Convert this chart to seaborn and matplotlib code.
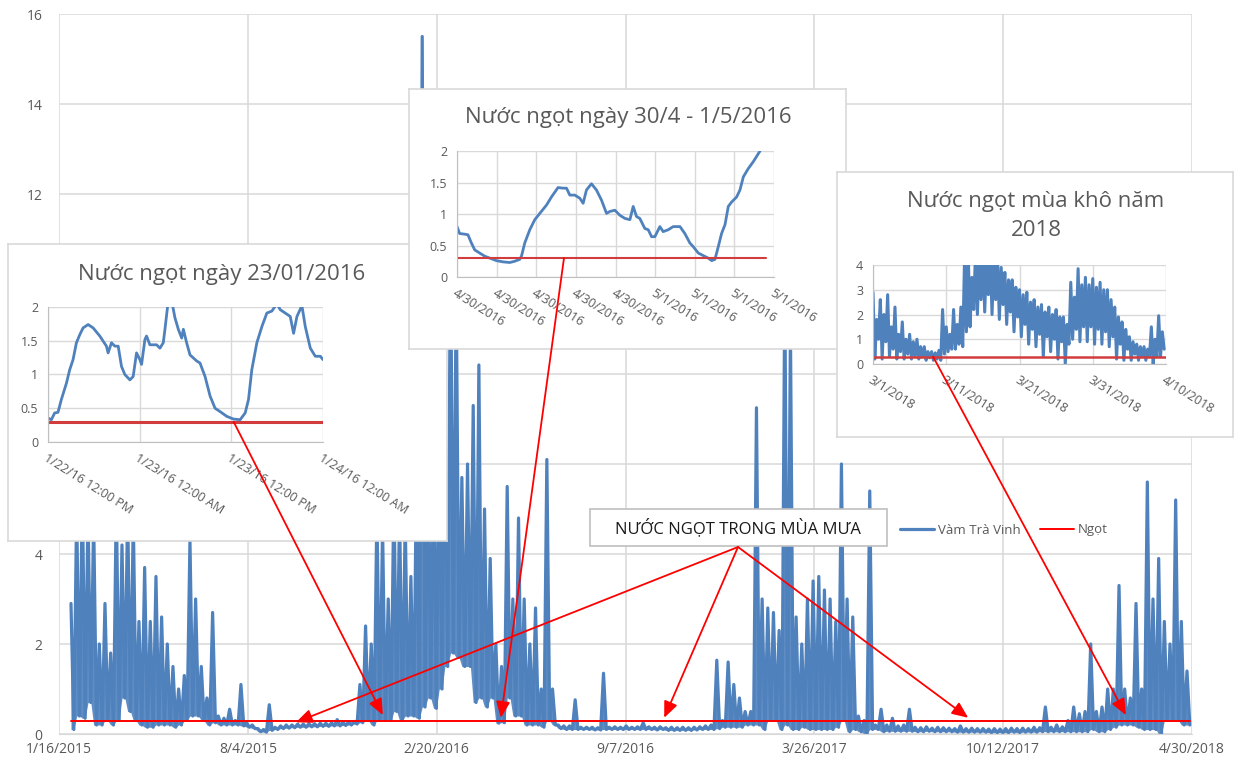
import numpy as np
import pandas as pd
import matplotlib
matplotlib.use("Agg")
import matplotlib.pyplot as plt
import seaborn as sns
from matplotlib.patches import ConnectionPatch, Rectangle

# ---------------------------------------------------------------- data
NGOT = 0.3  # salinity threshold (Ngọt)

# main chart: days since 1/16/2015
main_xtick_days = [0, 200, 400, 600, 800, 1000, 1200]
main_xtick_labels = ['1/16/2015', '8/4/2015', '2/20/2016', '9/7/2016',
                     '3/26/2017', '10/12/2017', '4/30/2018']
main_yticks = [0, 2, 4, 6, 8, 10, 12, 14, 16]
main_ylabels = ['0', '2', '4', '', '', '', '12', '14', '16']  # 6-10 lie under inset 1
main_start_day = 12.7
main_step_days = 6

# tidal highs / lows, one pair per step
main_max = [
    2.9, 5.0, 5.5, 5.0, 4.8, 2.0, 2.9, 1.8, 5.2, 4.2,
    5.0, 4.8, 2.5, 3.7, 2.5, 3.5, 2.6, 2.0, 1.5, 1.0,
    1.3, 4.3, 3.0, 1.5, 0.8, 2.7, 0.4, 0.35, 0.55, 0.3,
    1.1, 0.25, 0.2, 0.12, 0.1, 0.65, 0.15, 0.18, 0.2, 0.2,
    0.22, 0.22, 0.23, 0.23, 0.24, 0.24, 0.25, 0.32, 0.26, 0.27,
    0.28, 1.1, 2.4, 2.0, 5.0, 4.6, 3.0, 5.5, 5.0, 4.8,
    3.5, 6.0, 15.5, 7.0, 6.5, 7.0, 8.0, 11.0, 10.0, 5.7,
    6.0, 7.3, 8.2, 5.0, 3.9, 2.0, 1.5, 5.5, 3.0, 4.8,
    3.0, 2.0, 2.8, 1.0, 6.1, 1.0, 0.2, 0.18, 0.18, 0.76,
    0.15, 0.15, 0.15, 0.14, 1.35, 0.15, 0.16, 0.15, 0.18, 0.15,
    0.16, 0.25, 0.16, 0.15, 0.16, 0.14, 0.15, 0.14, 0.15, 0.14,
    0.15, 0.16, 0.18, 0.2, 1.64, 0.3, 1.6, 1.1, 0.8, 0.5,
    0.5, 7.25, 3.0, 2.8, 2.7, 2.3, 10.0, 9.0, 2.6, 2.0,
    3.0, 3.4, 3.5, 3.2, 3.0, 2.5, 6.0, 3.0, 2.6, 0.4,
    0.3, 5.4, 0.2, 0.55, 0.2, 0.35, 0.18, 0.2, 0.55, 0.15,
    0.14, 0.16, 0.13, 0.15, 0.14, 0.13, 0.12, 0.18, 0.12, 0.13,
    0.12, 0.12, 0.11, 0.12, 0.11, 0.12, 0.13, 0.12, 0.13, 0.12,
    0.15, 0.14, 0.6, 0.15, 0.2, 0.16, 0.3, 0.6, 0.45, 0.5,
    2.0, 0.5, 0.6, 1.0, 1.0, 3.3, 1.0, 0.8, 2.9, 1.0,
    5.6, 3.0, 3.9, 2.5, 2.0, 5.2, 2.5, 1.4]
main_min = [
    0.1, 0.4, 0.35, 0.7, 0.2, 0.2, 0.3, 0.2, 0.3, 0.8,
    0.5, 0.3, 0.2, 0.15, 0.15, 0.2, 0.2, 0.2, 0.15, 0.2,
    0.3, 0.4, 0.4, 0.3, 0.2, 0.25, 0.2, 0.2, 0.2, 0.2,
    0.18, 0.15, 0.12, 0.05, 0.04, 0.08, 0.1, 0.12, 0.13, 0.14,
    0.15, 0.15, 0.16, 0.16, 0.17, 0.17, 0.18, 0.18, 0.19, 0.2,
    0.22, 0.25, 0.3, 0.2, 0.3, 0.3, 0.3, 0.5, 0.3, 0.4,
    0.4, 0.35, 0.6, 0.8, 0.57, 1.0, 1.5, 1.8, 1.7, 1.5,
    1.5, 0.7, 0.8, 0.6, 0.8, 0.24, 0.25, 0.8, 0.4, 0.4,
    0.2, 0.2, 0.2, 0.15, 0.3, 0.2, 0.12, 0.1, 0.1, 0.1,
    0.1, 0.1, 0.09, 0.09, 0.1, 0.1, 0.1, 0.1, 0.1, 0.1,
    0.1, 0.1, 0.1, 0.09, 0.1, 0.08, 0.08, 0.08, 0.08, 0.08,
    0.09, 0.1, 0.1, 0.1, 0.12, 0.15, 0.15, 0.15, 0.15, 0.2,
    0.2, 0.2, 0.1, 0.3, 0.3, 0.1, 0.2, 0.1, 0.1, 0.15,
    0.1, 0.1, 0.1, 0.1, 0.1, 0.15, 0.3, 0.05, 0.1, 0.05,
    0.0, 0.1, 0.1, 0.05, 0.06, 0.06, 0.06, 0.06, 0.06, 0.05,
    0.05, 0.06, 0.05, 0.05, 0.05, 0.05, 0.04, 0.04, 0.04, 0.04,
    0.04, 0.04, 0.03, 0.03, 0.03, 0.03, 0.04, 0.03, 0.04, 0.04,
    0.04, 0.05, 0.05, 0.05, 0.05, 0.05, 0.05, 0.05, 0.05, 0.05,
    0.1, 0.05, 0.05, 0.1, 0.15, 0.2, 0.2, 0.2, 0.15, 0.1,
    0.1, 0.1, 0.0, 0.3, 0.3, 0.3, 0.2, 0.2]

# inset 1: 23/01/2016 (hours after 1/22/16 12:00 PM)
ins1_hours = [0, 0.44, 0.87, 1.31, 1.75, 2.41, 2.84, 3.28, 3.72, 4.16, 4.59, 5.25,
              5.91, 6.78, 7.65, 7.87, 8.31, 8.75, 9.19, 9.62, 10.06, 10.72, 11.15,
              11.59, 12.03, 12.25, 12.69, 12.9, 13.34, 14.22, 14.65, 15.09, 15.31,
              15.75, 16.18, 16.62, 17.06, 17.5, 17.72, 18.15, 18.59, 19.47, 19.9,
              20.56, 21.22, 21.87, 22.53, 23.4, 24.28, 25.15, 25.81, 26.25, 26.68,
              27.34, 28.0, 28.65, 29.31, 29.96, 30.4, 31.06, 31.71, 32.15, 32.59,
              33.24, 33.68, 34.34, 34.99, 35.65, 36.0]
ins1_vals = [0.355, 0.33, 0.43, 0.44, 0.63, 0.87, 1.07, 1.22, 1.47, 1.59, 1.69, 1.74,
             1.69, 1.57, 1.42, 1.32, 1.47, 1.42, 1.42, 1.12, 1.0, 0.92, 0.97, 1.32,
             1.22, 1.15, 1.52, 1.57, 1.44, 1.44, 1.39, 1.47, 1.67, 2.1, 2.1, 1.84,
             1.67, 1.54, 1.67, 1.47, 1.29, 1.2, 1.17, 0.97, 0.68, 0.5, 0.45, 0.38,
             0.34, 0.33, 0.43, 0.63, 1.07, 1.47, 1.71, 1.91, 1.94, 2.05, 1.96, 1.91,
             1.86, 1.61, 1.86, 2.02, 1.71, 1.39, 1.27, 1.27, 1.22]
ins1_xticks = [0, 12, 24, 36]
ins1_xlabels = ['1/22/16 12:00 PM', '1/23/16 12:00 AM', '1/23/16 12:00 PM', '1/24/16 12:00 AM']

# inset 2: 30/4 - 1/5/2016 (hours)
ins2_hours = [0, 0.2, 0.58, 0.83, 1.09, 1.34, 1.72, 2.10, 2.48, 2.98, 3.49, 3.99, 4.37,
              4.75, 4.88, 5.13, 5.51, 5.89, 6.27, 6.77, 7.15, 7.65, 8.03, 8.29, 8.54,
              8.92, 9.30, 9.55, 9.80, 10.18, 10.56, 10.94, 11.32, 11.57, 11.95, 12.33,
              12.71, 13.09, 13.34, 13.59, 13.84, 14.22, 14.48, 14.73, 14.98, 15.36,
              15.61, 15.99, 16.37, 16.88, 17.25, 17.63, 17.89, 18.27, 18.64, 19.02,
              19.28, 19.53, 19.78, 20.03, 20.29, 20.54, 20.79, 21.17, 21.42, 21.68,
              22.05, 22.43, 22.94]
ins2_vals = [0.8, 0.69, 0.68, 0.67, 0.54, 0.43, 0.38, 0.33, 0.30, 0.26,
             0.24, 0.23, 0.25, 0.28, 0.33, 0.54, 0.75, 0.91, 1.01, 1.14,
             1.27, 1.42, 1.41, 1.41, 1.30, 1.30, 1.25, 1.17, 1.38, 1.48,
             1.38, 1.22, 1.01, 1.04, 1.06, 0.98, 0.93, 0.91, 1.12, 0.96,
             0.93, 0.77, 0.75, 0.64, 0.64, 0.80, 0.72, 0.75, 0.80, 0.80,
             0.69, 0.54, 0.48, 0.38, 0.34, 0.30, 0.26, 0.28, 0.48, 0.69,
             0.83, 1.12, 1.19, 1.27, 1.38, 1.59, 1.72, 1.83, 2.0]
ins2_ngot_end = 23.37
ins2_xticks = [0, 3, 6, 9, 12, 15, 18, 21, 24]
ins2_xlabels = ['4/30/2016'] * 5 + ['5/1/2016'] * 4

# inset 3: dry season 2018 (days after 3/1/2018), two tides per day
ins3_peaks = [2.9, 1.8, 2.6, 2.0, 2.8, 1.5, 2.3, 1.2, 1.7, 1.0, 1.2, 0.9, 1.0, 0.7,
              0.7, 0.5, 0.5, 0.45, 0.55, 2.2, 1.5, 1.2, 2.2, 1.6, 2.3, 4.3, 4.5, 3.5,
              4.6, 4.2, 4.6, 4.3, 4.5, 4.2, 4.3, 3.9, 3.7, 3.4, 3.4, 3.1, 3.0, 2.8,
              2.9, 2.5, 2.6, 2.3, 2.4, 2.1, 2.3, 2.0, 2.2, 1.9, 1.9, 1.6, 3.3, 2.7,
              3.85, 3.2, 3.5, 3.2, 3.45, 3.1, 3.3, 3.0, 3.0, 2.6, 2.3, 1.9, 1.7, 1.4,
              1.1, 0.9, 0.8, 0.7, 0.7, 0.6, 1.5, 1.0, 1.95, 1.3]
ins3_troughs = [0.2, 1.0, 0.2, 0.9, 0.3, 0.6, 0.2, 0.5, 0.2, 0.4, 0.2, 0.3, 0.2, 0.3,
                0.15, 0.25, 0.15, 0.2, 0.15, 0.4, 0.5, 0.6, 0.6, 0.8, 0.7, 1.3, 1.5, 2.2,
                2.0, 2.6, 2.1, 2.8, 2.0, 2.6, 1.8, 2.4, 1.6, 2.1, 1.3, 1.9, 1.1, 1.6,
                0.8, 1.4, 0.7, 1.2, 0.3, 1.1, 0.5, 1.0, 0.2, 0.9, 0.0, 0.8, 1.0, 1.4,
                0.9, 1.5, 0.9, 1.5, 0.8, 1.4, 0.8, 1.3, 0.7, 1.1, 0.2, 0.8, 0.15, 0.6,
                0.15, 0.4, 0.15, 0.3, 0.15, 0.3, 0.0, 0.3, 0.3, 0.6]
ins3_xticks = [0, 10, 20, 30, 40]
ins3_xlabels = ['3/1/2018', '3/11/2018', '3/21/2018', '3/31/2018', '4/10/2018']

# ---------------------------------------------------------------- build series
assert len(main_max) == len(main_min)
main_day = [main_start_day + main_step_days * i for i in range(len(main_max))]
zig_x, zig_y, zig_lo = [], [], []
for d, hi, lo in zip(main_day, main_max, main_min):
    zig_x += [d, d + main_step_days / 2]
    zig_y += [hi, lo]
    zig_lo += [lo, lo]
main_df = pd.DataFrame({'day': zig_x, 'val': zig_y, 'lo': zig_lo})

ins3_x, ins3_y = [], []
for k, (hi, lo) in enumerate(zip(ins3_peaks, ins3_troughs)):
    ins3_x += [0.5 * k, 0.5 * k + 0.25]
    ins3_y += [hi, lo]

# ---------------------------------------------------------------- style
sns.set_style("white")
plt.rcParams['font.family'] = ['Open Sans', 'DejaVu Sans']
BLUE = '#4F81BD'
RED = '#FF0000'
DRED = '#D23C3C'
GRID = '#D9D9D9'
TXT = '#595959'

W, H = 1240, 765
def rect(l, t, r, b):
    return [l / W, 1 - b / H, (r - l) / W, (b - t) / H]
def fpt(x, y):
    return (x / W, 1 - y / H)

fig = plt.figure(figsize=(12.4, 7.65), dpi=100)

# ---------------------------------------------------------------- main chart
ax = fig.add_axes(rect(59, 14, 1192, 734), zorder=0)
ax.fill_between(main_df['day'], main_df['lo'], main_df['val'], color=BLUE, lw=0,
                alpha=0.9)
sns.lineplot(data=main_df, x='day', y='val', ax=ax, color=BLUE, lw=2.3,
             estimator=None, sort=False, legend=False)
sns.lineplot(x=[main_day[0], zig_x[-1]], y=[NGOT, NGOT], ax=ax, color=RED, lw=1.4,
             estimator=None, legend=False)
ax.set_xlim(0, 1200)
ax.set_ylim(0, 16)
ax.set_xticks(main_xtick_days, main_xtick_labels)
ax.set_yticks(main_yticks, main_ylabels)
ax.set_xlabel('')
ax.set_ylabel('')
ax.grid(True, color=GRID, lw=1.1)
for s in ['top', 'right', 'left']:
    ax.spines[s].set_visible(False)
ax.spines['bottom'].set_color(GRID)
ax.tick_params(axis='both', length=0, labelsize=10, labelcolor=TXT)
ax.tick_params(axis='y', pad=12)
ax.tick_params(axis='x', pad=6)

lines = ax.get_lines()
ax.legend(handles=[lines[0], lines[-1]], labels=['Vàm Trà Vinh', 'Ngọt'],
          loc='center', bbox_to_anchor=fpt(1004, 530), bbox_transform=fig.transFigure,
          ncol=2, frameon=False, fontsize=9.5, labelcolor=TXT, handlelength=2.6,
          columnspacing=1.4, handletextpad=0.3)


def make_box(box_px, z, titles):
    bax = fig.add_axes(rect(*box_px), zorder=z)
    bax.set_facecolor('white')
    bax.set_xticks([])
    bax.set_yticks([])
    for s in bax.spines.values():
        s.set_color(GRID)
        s.set_linewidth(1.2)
    for (tx, ty, txt) in titles:
        bax.text(*fpt(tx, ty), txt, transform=fig.transFigure, ha='center',
                 va='center', fontsize=16, color=TXT)
    return bax


def style_inset(pax, yticks, ylabels, xticks, xlabels, xlim, ylim):
    pax.set_facecolor('none')
    pax.set_xlim(*xlim)
    pax.set_ylim(*ylim)
    pax.set_yticks(yticks, ylabels)
    pax.set_xticks(xticks)
    pax.set_xticklabels(xlabels, rotation=-32, ha='left', rotation_mode='anchor')
    pax.set_xlabel('')
    pax.set_ylabel('')
    pax.grid(True, color=GRID, lw=1)
    for s in ['top', 'right']:
        pax.spines[s].set_visible(False)
    for s in ['left', 'bottom']:
        pax.spines[s].set_color('#BFBFBF')
    pax.tick_params(axis='both', length=4, color='#BFBFBF', labelcolor=TXT,
                    direction='out')
    pax.tick_params(axis='y', labelsize=9, pad=3)
    pax.tick_params(axis='x', labelsize=9, pad=3)


# ---------------------------------------------------------------- inset 1
make_box((8, 244, 447, 541), 1, [(222, 274, 'Nước ngọt ngày 23/01/2016')])
ax1 = fig.add_axes(rect(48, 307, 323, 442), zorder=2)
sns.lineplot(x=ins1_hours, y=ins1_vals, ax=ax1, color=BLUE, lw=2.0, estimator=None,
             legend=False)
sns.lineplot(x=[ins1_hours[0], ins1_hours[-1]], y=[NGOT, NGOT], ax=ax1, color=DRED,
             lw=2.2, estimator=None, legend=False)
style_inset(ax1, [0, 0.5, 1, 1.5, 2], ['0', '0.5', '1', '1.5', '2'],
            ins1_xticks, ins1_xlabels, (0, 36), (0, 2))

# ---------------------------------------------------------------- inset 2
make_box((409, 89, 846, 349), 3, [(628, 118, 'Nước ngọt ngày 30/4 - 1/5/2016')])
ax2 = fig.add_axes(rect(457, 151, 774, 277), zorder=4)
sns.lineplot(x=ins2_hours, y=ins2_vals, ax=ax2, color=BLUE, lw=2.0, estimator=None,
             legend=False)
sns.lineplot(x=[0, ins2_ngot_end], y=[NGOT, NGOT], ax=ax2, color=DRED, lw=1.5,
             estimator=None, legend=False)
style_inset(ax2, [0, 0.5, 1, 1.5, 2], ['0', '0.5', '1', '1.5', '2'],
            ins2_xticks, ins2_xlabels, (0, 24), (0, 2))

# ---------------------------------------------------------------- inset 3
make_box((837, 172, 1233, 437), 5, [(1036, 202, 'Nước ngọt mùa khô năm'),
                                     (1036, 231, '2018')])
ax3 = fig.add_axes(rect(873, 265, 1166, 364), zorder=6)
sns.lineplot(x=ins3_x, y=ins3_y, ax=ax3, color=BLUE, lw=2.2, estimator=None,
             sort=False, legend=False)
sns.lineplot(x=[0, 40], y=[NGOT, NGOT], ax=ax3, color=DRED, lw=1.8,
             estimator=None, legend=False)
style_inset(ax3, [0, 1, 2, 3, 4], ['0', '1', '2', '3', '4'],
            ins3_xticks, ins3_xlabels, (0, 40), (0, 4))

# ---------------------------------------------------------------- annotation box
fig.add_artist(Rectangle(fpt(590, 546), 297 / W, 37 / H, transform=fig.transFigure,
                         fc='white', ec='#BFBFBF', lw=1.2, zorder=15))
fig.text(*fpt(738, 528), 'NƯỚC NGỌT TRONG MÙA MƯA', ha='center', va='center',
         fontsize=12, color='#1A1A1A', zorder=16)

# ---------------------------------------------------------------- arrows
arrow_kw = dict(arrowstyle='-|>,head_length=0.7,head_width=0.3', color=RED, lw=1.3,
                mutation_scale=14, shrinkA=0, shrinkB=0, zorder=20)
links = [
    ((24.3, NGOT), ax1.transData, (343, 0.42)),
    ((8.1, NGOT), ax2.transData, (468, 0.36)),
    ((8.2, NGOT), ax3.transData, (1130, 0.42)),
    (fpt(738, 547), fig.transFigure, (251, 0.26)),
    (fpt(738, 547), fig.transFigure, (641, 0.36)),
    (fpt(738, 547), fig.transFigure, (963, 0.36)),
]
for xyA, trA, xyB in links:
    con = ConnectionPatch(xyA=xyA, coordsA=trA, xyB=xyB, coordsB=ax.transData, **arrow_kw)
    fig.add_artist(con)

fig.savefig('out.png', dpi=100, facecolor='white')
